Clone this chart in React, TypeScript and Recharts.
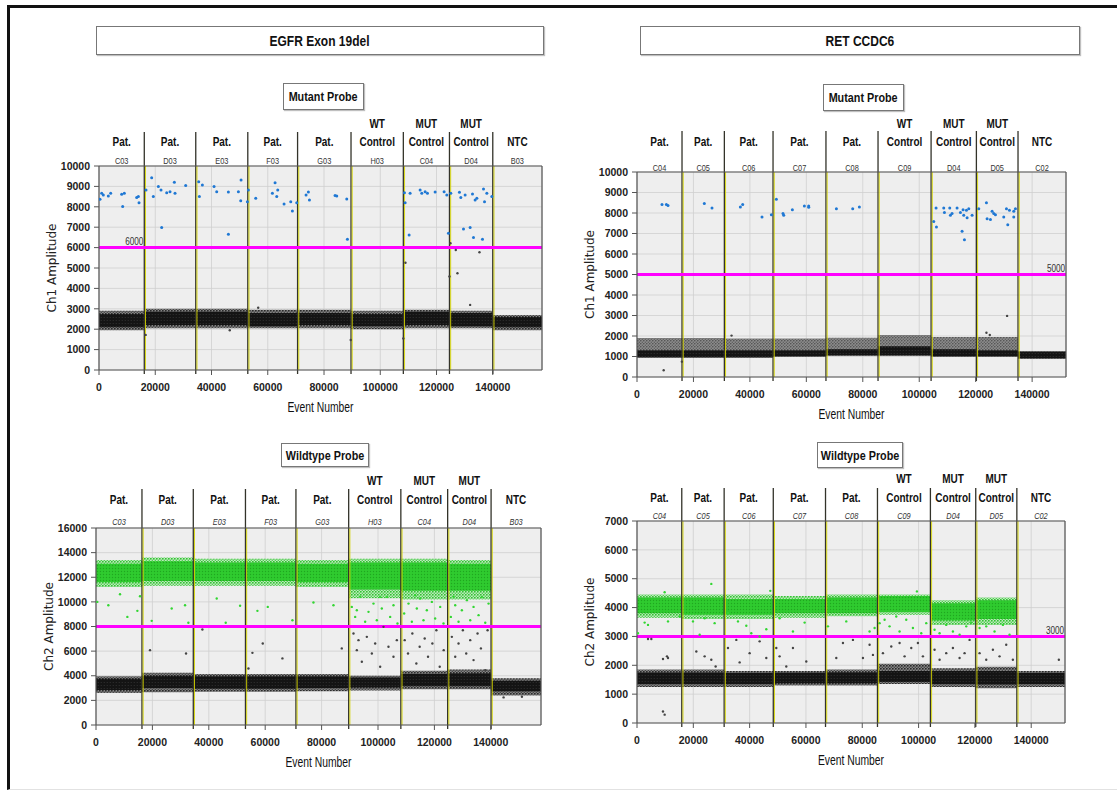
import React from "react";
import {
  ScatterChart,
  Scatter,
  XAxis,
  YAxis,
  CartesianGrid,
  ReferenceLine,
  ReferenceArea,
} from "recharts";

const SANS = "'Liberation Sans', Arial, sans-serif";
const DEJAVU = "'DejaVu Sans', Verdana, sans-serif";

// wells / header labels
const egfrWells = ["C03", "D03", "E03", "F03", "G03", "H03", "C04", "D04", "B03"];
const retWells = ["C04", "C05", "C06", "C07", "C08", "C09", "D04", "D05", "C02"];
const wellTop = ["", "", "", "", "", "WT", "MUT", "MUT", ""];
const wellBottom = ["Pat.", "Pat.", "Pat.", "Pat.", "Pat.", "Control", "Control", "Control", "NTC"];

// axis ticks
const eventTicks = [0, 20000, 40000, 60000, 80000, 100000, 120000, 140000];
const ch1Ticks = [0, 1000, 2000, 3000, 4000, 5000, 6000, 7000, 8000, 9000, 10000];
const egfrCh2Ticks = [0, 2000, 4000, 6000, 8000, 10000, 12000, 14000, 16000];
const retCh2Ticks = [0, 1000, 2000, 3000, 4000, 5000, 6000, 7000];

// well boundaries (event number)
const egfrCh1Bounds = [16100, 34400, 52900, 70600, 89600, 108200, 124600, 140000];
const egfrCh2Bounds = [16300, 34500, 53000, 70900, 89600, 108100, 124700, 140100];
const retCh1Bounds = [15950, 30950, 48200, 66950, 85400, 104200, 120250, 135000];
const retCh2Bounds = [15900, 30950, 48400, 66950, 85400, 104200, 120300, 134900];

// droplet clouds per well [low, high] amplitude
const egfrCh1NegOuter: ([number, number] | null)[] = [
  [1950, 2900], [2050, 3000], [2050, 3000], [2050, 2950], [2050, 2950], [2000, 2900], [2050, 2950], [2050, 2900], [1950, 2700],
];
const egfrCh1NegCore: ([number, number] | null)[] = [
  [2100, 2750], [2200, 2850], [2200, 2850], [2150, 2800], [2200, 2800], [2150, 2750], [2200, 2850], [2150, 2800], [2100, 2600],
];
const retCh1NegCore: ([number, number] | null)[] = [
  [950, 1300], [950, 1300], [950, 1300], [1000, 1300], [1050, 1350], [1050, 1500], [1000, 1350], [1000, 1300], [900, 1250],
];
const retCh1Shadow: ([number, number] | null)[] = [
  [1300, 1900], [1300, 1900], [1300, 1880], [1300, 1880], [1350, 1920], [1500, 2050], [1350, 1950], [1300, 1950], null,
];
const egfrCh2NegOuter: ([number, number] | null)[] = [
  [2600, 3950], [2650, 4250], [2700, 4150], [2700, 4150], [2750, 4150], [2800, 4000], [2900, 4400], [2900, 4500], [2400, 3800],
];
const egfrCh2NegCore: ([number, number] | null)[] = [
  [2850, 3750], [3000, 4000], [2950, 3950], [2950, 3950], [3000, 3950], [3050, 3850], [3150, 4150], [3150, 4200], [2750, 3600],
];
const egfrCh2PosOuter: ([number, number] | null)[] = [
  [11200, 13400], [11300, 13600], [11300, 13500], [11300, 13500], [11200, 13400], [10300, 13500], [10200, 13500], [10200, 13400], null,
];
const egfrCh2PosCore: ([number, number] | null)[] = [
  [11600, 13100], [11700, 13300], [11700, 13200], [11700, 13200], [11600, 13100], [11000, 13200], [10900, 13200], [10900, 13100], null,
];
const retCh2NegOuter: ([number, number] | null)[] = [
  [1250, 1850], [1250, 1850], [1250, 1800], [1300, 1800], [1300, 1850], [1350, 2050], [1250, 1900], [1200, 1950], [1250, 1800],
];
const retCh2NegCore: ([number, number] | null)[] = [
  [1350, 1750], [1350, 1750], [1350, 1730], [1380, 1740], [1380, 1760], [1420, 1800], [1350, 1800], [1330, 1800], [1350, 1730],
];
const retCh2PosOuter: ([number, number] | null)[] = [
  [3650, 4450], [3600, 4450], [3600, 4450], [3650, 4400], [3700, 4450], [3750, 4450], [3400, 4250], [3400, 4350], null,
];
const retCh2PosCore: ([number, number] | null)[] = [
  [3800, 4350], [3750, 4350], [3750, 4300], [3800, 4300], [3800, 4350], [3850, 4400], [3550, 4150], [3600, 4250], null,
];

// individual droplets [event, amplitude]
const egfrCh1Positive: [number, number][] = [
  [356, 8370], [950, 8660], [1540, 8580], [3320, 8530], [4150, 8660], [8060, 8610], [8420, 8010], [9010, 8660], [13400, 8460], [13990, 8500], [14230, 8200],
  [16720, 8820], [18730, 9430], [19320, 8500], [21100, 8990], [22050, 8820], [22290, 6980], [24070, 8690], [25250, 8740], [26790, 9200], [27030, 8660], [30820, 9040],
  [35450, 9230], [35690, 8500], [36750, 9070], [40900, 8990], [41850, 8740], [46000, 6650], [46000, 8730], [49560, 8740], [50510, 9310], [50390, 8300], [52760, 8250], [53110, 8820],
  [55720, 8420], [61650, 8660], [62600, 9180], [63190, 8500], [63540, 8820], [65800, 8140], [68170, 8250], [68760, 7790], [70300, 8200],
  [73620, 8580], [74450, 8730], [74810, 8330], [83930, 8550], [84520, 8530], [88080, 8380], [88320, 6410],
  [108600, 8690], [108840, 8200], [110260, 6620], [110610, 8660], [114170, 8820], [114760, 8660], [115950, 8740], [116780, 8660], [119500, 8730], [122700, 8740], [123650, 8580], [124240, 6700],
  [125070, 8660], [128150, 8710], [128630, 8460], [129580, 6910], [130170, 8580], [131950, 6990], [132780, 8630], [133140, 6500], [133730, 8330], [134330, 8420], [136340, 6410], [136700, 8870], [137060, 8250], [137890, 8660], [139650, 8500],
];
const egfrCh1Negative: [number, number][] = [
  [108960, 5260], [124600, 4580], [127440, 4740], [126850, 5880], [135270, 5770], [131950, 3190], [124950, 6210], [16600, 1720], [89500, 1470], [108200, 1550], [46500, 1950], [56600, 3050],
];
const retCh1Positive: [number, number][] = [
  [8860, 8410], [10400, 8410], [10990, 8370], [23860, 8460], [26580, 8240], [36620, 8290], [37450, 8410],
  [44300, 7800], [47610, 7920], [49380, 8670], [51740, 7970], [51980, 7890], [55050, 8160], [59300, 8340], [60840, 8340], [60840, 8280],
  [70650, 8210], [76430, 8210], [78790, 8290],
  [105140, 7590], [105970, 8240], [106090, 7320], [108680, 8240], [108920, 8020], [110810, 8240], [111050, 7890], [111640, 7970], [113410, 8240], [114590, 8020], [115180, 7110], [115530, 8160], [115770, 7890], [116010, 6700], [116720, 8130], [116960, 7770], [117550, 8210], [118730, 7890],
  [121090, 8210], [123810, 8500], [124050, 7720], [125230, 7680], [125820, 8080], [126410, 7970], [127000, 7920], [129950, 7800], [130900, 8210], [131370, 7430], [131960, 8130], [133490, 7800], [133490, 8080], [134080, 8210],
];
const retCh1Negative: [number, number][] = [
  [131130, 2980], [123810, 2160], [125000, 2050], [9450, 330], [33500, 2020], [15900, 750],
];
const egfrCh2Positive: [number, number][] = [
  [470, 10000], [4380, 9730], [8520, 10620], [11120, 8780], [14670, 9270], [15610, 10460], [19750, 8460], [26840, 9460], [31580, 9730], [32760, 8300],
  [42810, 10270], [46000, 8300], [51090, 9680], [57240, 9270], [60910, 9590], [69660, 8510], [77110, 9950], [84210, 9730],
  [90710, 9590], [91900, 8780], [93670, 10410], [95440, 8380], [96630, 9190], [98400, 9860], [99580, 8510], [101350, 9460], [103130, 10410], [104310, 8780], [105490, 9730], [106910, 8240], [92490, 9320], [100760, 10410],
  [109280, 9050], [110820, 9860], [112000, 8380], [113770, 9460], [114950, 10270], [116130, 8510], [117320, 9320], [119090, 10000], [120270, 8650], [122050, 9590], [123230, 8240], [113170, 10540],
  [125840, 8780], [127380, 9730], [128560, 8380], [129740, 9320], [131520, 10140], [132700, 8510], [133880, 9590], [135660, 8920], [136840, 10410], [138030, 8300], [139210, 9860], [126790, 10410],
];
const egfrCh2Negative: [number, number][] = [
  [19160, 6080], [31930, 5810], [37730, 7760], [55470, 5860], [59140, 6620], [66110, 5410], [87160, 6220], [54060, 4590],
  [91310, 7430], [92490, 6080], [94270, 5140], [96040, 7160], [97820, 5810], [99000, 6620], [100760, 4730], [101950, 7970], [103720, 6350], [105490, 5540], [106680, 6890], [93080, 6890],
  [109460, 6890], [110640, 5810], [112180, 7430], [113600, 5000], [114780, 6350], [116560, 7030], [117740, 5540], [119280, 6620], [120700, 7700], [121880, 4730], [123300, 6080],
  [126190, 7160], [127380, 5540], [128560, 6620], [130090, 7700], [131280, 5810], [132700, 6890], [133880, 5270], [135300, 7430], [136490, 6220], [138030, 4460], [138860, 7700],
  [144530, 2240], [151040, 2300],
];
const retCh2Positive: [number, number][] = [
  [350, 3110], [2720, 3480], [3910, 3400], [9820, 4530], [11010, 3520], [15150, 3690],
  [19880, 3520], [22250, 3060], [24020, 3630], [26390, 4820], [27570, 3460],
  [32310, 3810], [35860, 3520], [38820, 3370], [40590, 3110], [43550, 3000], [45920, 3250], [47340, 4580],
  [50650, 3630], [55380, 3170], [59530, 3480],
  [67810, 3350], [74320, 3520], [82600, 3170], [84380, 3290],
  [86150, 3460], [87930, 3580], [89700, 3350], [92070, 3690], [93250, 3170], [95620, 3580], [97990, 3290], [99410, 4560], [100950, 3110], [102720, 3460],
  [105680, 3230], [107460, 3110], [109820, 3400], [112190, 3170], [114560, 3060], [116920, 3350], [118700, 3480],
  [121660, 3290], [124030, 3350], [126980, 3170], [129940, 3400], [132310, 3060],
];
const retCh2Negative: [number, number][] = [
  [3910, 2910], [5090, 2910], [9230, 2220], [10650, 2310], [11010, 2250], [9230, 400], [9820, 290],
  [21070, 2480], [24020, 2310], [26390, 2190], [27930, 1960],
  [32310, 2600], [35270, 2880], [36450, 2100], [40000, 2420], [43550, 2830], [45920, 2250],
  [49470, 2600], [50650, 2310], [55380, 2600], [60120, 2130], [53020, 1960],
  [70770, 2250], [73140, 2770], [76690, 2880], [80240, 2250], [82600, 2710], [83790, 2360],
  [87340, 2420], [90300, 2650], [93250, 2770], [95030, 2310], [97400, 2600], [99760, 2770], [101540, 2310],
  [105680, 2540], [107460, 2190], [109820, 2420], [112190, 2600], [114560, 2250], [116330, 2420], [118110, 2880],
  [121660, 2420], [124030, 2190], [126390, 2540], [128760, 2310], [131120, 2710], [133490, 2190],
  [149820, 2190],
];

type Band = [number, number] | null;

interface PanelSpec {
  left: number;
  top: number;
  width: number;
  height: number;
  xMax: number;
  yMax: number;
  yTicks: number[];
  yLabel: string;
  bounds: number[];
  wells: string[];
  italicIds: boolean;
  hdr: [number, number, number, number];
  threshold: number;
  thresholdSide: "left" | "right" | "none";
  negOuter: Band[];
  negCore: Band[];
  shadow?: Band[];
  posOuter?: Band[];
  posCore?: Band[];
  posPoints: [number, number][];
  negPoints: [number, number][];
  posColor: string;
  posRadius: number;
}

// condensed svg text (the source figure is squeezed horizontally)
function Squeezed({ x, y, sx = 0.78, children, ...rest }: any) {
  return (
    <text transform={`translate(${x} ${y}) scale(${sx} 1)`} x={0} y={0} textAnchor="middle" {...rest}>
      {children}
    </text>
  );
}

function Panel(p: PanelSpec) {
  const edges = [0, ...p.bounds, p.xMax];
  const centers = p.wells.map((_, i) => (edges[i] + edges[i + 1]) / 2);
  const pos = p.posPoints.map(([x, y]) => ({ x, y }));
  const neg = p.negPoints.map(([x, y]) => ({ x, y }));

  const wellTick = (props: any) => {
    const { x, y, payload } = props;
    const i = centers.indexOf(payload.value);
    if (i < 0) return <g />;
    return (
      <g>
        {wellTop[i] && (
          <Squeezed x={x} y={y - p.hdr[0]} sx={0.74} fontFamily={SANS} fontWeight="bold" fontSize={13.5} fill="#111">
            {wellTop[i]}
          </Squeezed>
        )}
        <Squeezed x={x} y={y - p.hdr[1]} sx={0.74} fontFamily={SANS} fontWeight="bold" fontSize={13.5} fill="#111">
          {wellBottom[i]}
        </Squeezed>
        <Squeezed
          x={x}
          y={y - p.hdr[2]}
          sx={0.82}
          fontFamily={SANS}
          fontStyle={p.italicIds ? "italic" : "normal"}
          fontSize={9}
          fill="#333"
        >
          {p.wells[i]}
        </Squeezed>
      </g>
    );
  };

  const boundaryShape = (sp: any) => {
    const t = Math.min(sp.y1, sp.y2);
    const b = Math.max(sp.y1, sp.y2);
    return (
      <g>
        <line x1={sp.x1} x2={sp.x1} y1={t - p.hdr[3]} y2={b + 4} stroke="#33332a" strokeWidth={1.3} />
        <line x1={sp.x1 + 1.2} x2={sp.x1 + 1.2} y1={t} y2={b} stroke="#d4d400" strokeWidth={0.9} />
      </g>
    );
  };

  const thresholdText = (lp: any) => {
    const vb = lp.viewBox;
    if (p.thresholdSide === "none") return <g />;
    const x =
      p.thresholdSide === "left" ? vb.x + (edges[1] / p.xMax) * vb.width - 10 : vb.x + vb.width - 10;
    return (
      <Squeezed x={x} y={vb.y - 2.5} sx={0.82} fontFamily={SANS} fontSize={10} fill="#333">
        {p.threshold}
      </Squeezed>
    );
  };

  const bandAreas = (bands: Band[] | undefined, fill: string, key: string, opacity = 1) =>
    (bands || []).map((b, i) =>
      b ? (
        <ReferenceArea
          key={key + i}
          x1={edges[i]}
          x2={edges[i + 1]}
          y1={b[0]}
          y2={b[1]}
          fill={fill}
          fillOpacity={opacity}
          stroke="none"
        />
      ) : null
    );

  return (
    <div style={{ position: "absolute", left: p.left, top: p.top }}>
      <ScatterChart width={p.width} height={p.height} margin={{ top: 0, right: 10, bottom: 0, left: 0 }}>
        <CartesianGrid fill="#eeeeee" fillOpacity={1} stroke="#cfcfcf" strokeWidth={0.8} />
        <XAxis
          xAxisId="top"
          orientation="top"
          type="number"
          dataKey="x"
          domain={[0, p.xMax]}
          ticks={centers}
          interval={0}
          tickSize={0}
          tickMargin={0}
          tickLine={false}
          axisLine={{ stroke: "#555", strokeWidth: 1.2 }}
          height={60}
          tick={wellTick}
          allowDataOverflow
        />
        <XAxis
          type="number"
          dataKey="x"
          domain={[0, p.xMax]}
          ticks={eventTicks}
          interval={0}
          tickSize={5}
          tickMargin={9}
          height={45}
          axisLine={{ stroke: "#555", strokeWidth: 1.2 }}
          tickLine={{ stroke: "#555" }}
          tick={{ fontFamily: SANS, fontWeight: "bold", fontSize: 10.5, fill: "#222" }}
          allowDataOverflow
          label={(lp: any) => {
            const vb = lp.viewBox;
            return (
              <Squeezed x={vb.x + vb.width / 2} y={vb.y + 42} sx={0.74} fontFamily={SANS} fontSize={14} fill="#111">
                Event Number
              </Squeezed>
            );
          }}
        />
        <YAxis
          type="number"
          dataKey="y"
          domain={[0, p.yMax]}
          ticks={p.yTicks}
          interval={0}
          width={60}
          tickSize={5}
          tickMargin={4}
          axisLine={{ stroke: "#555", strokeWidth: 1.2 }}
          tickLine={{ stroke: "#555" }}
          tick={{ fontFamily: SANS, fontWeight: "bold", fontSize: 10.5, fill: "#222" }}
          allowDataOverflow
          label={(lp: any) => {
            const vb = lp.viewBox;
            const cx = vb.x + 13;
            const cy = vb.y + vb.height / 2;
            return (
              <text x={cx} y={cy} transform={`rotate(-90 ${cx} ${cy})`} textAnchor="middle" dominantBaseline="central" fontFamily={DEJAVU} fontSize={12} fill="#222">
                {p.yLabel}
              </text>
            );
          }}
        />
        {bandAreas(p.shadow, "url(#shadowDots)", "sh")}
        {bandAreas(p.negOuter, "url(#negDots)", "no")}
        {bandAreas(p.negCore, "url(#negCoreDots)", "nc")}
        {bandAreas(p.posOuter, "url(#posDots)", "po")}
        {bandAreas(p.posCore, "url(#posCoreDots)", "pc")}
        {p.bounds.map((b) => (
          <ReferenceLine key={"b" + b} x={b} stroke="#33332a" shape={boundaryShape} />
        ))}
        <ReferenceLine y={p.threshold} stroke="#ff00ff" strokeWidth={3} label={thresholdText} />
        <ReferenceLine x={p.xMax} stroke="#555" strokeWidth={1.2} />
        <Scatter
          data={neg}
          isAnimationActive={false}
          shape={(sp: any) => <circle cx={sp.cx} cy={sp.cy} r={1.2} fill="#444" />}
        />
        <Scatter
          data={pos}
          isAnimationActive={false}
          shape={(sp: any) => <circle cx={sp.cx} cy={sp.cy} r={p.posRadius} fill={p.posColor} />}
        />
      </ScatterChart>
    </div>
  );
}

const BLUE = "#1f78d4";
const GREEN = "#33d633";

function TitleBox({ left, top, width, height, text, size }: any) {
  return (
    <div
      style={{
        position: "absolute",
        left,
        top,
        width,
        height,
        border: "1px solid #777",
        boxShadow: "1px 1px 1px rgba(0,0,0,0.25)",
        background: "#fff",
        display: "flex",
        alignItems: "center",
        justifyContent: "center",
        boxSizing: "border-box",
      }}
    >
      <span
        style={{
          display: "inline-block",
          whiteSpace: "nowrap",
          transform: "scaleX(0.8)",
          fontFamily: SANS,
          fontWeight: "bold",
          fontSize: size,
          color: "#111",
        }}
      >
        {text}
      </span>
    </div>
  );
}

export default function App() {
  return (
    <div style={{ position: "absolute", left: 0, top: 0, width: 1117, height: 794, background: "#fff", overflow: "hidden" }}>
      <svg width={0} height={0} style={{ position: "absolute" }}>
        <defs>
          <pattern id="negDots" width="3" height="3" patternUnits="userSpaceOnUse">
            <rect width="3" height="3" fill="#858585" />
            <circle cx="0.8" cy="0.8" r="0.9" fill="#262626" />
            <circle cx="2.3" cy="2.2" r="0.7" fill="#3a3a3a" />
          </pattern>
          <pattern id="negCoreDots" width="3" height="3" patternUnits="userSpaceOnUse">
            <rect width="3" height="3" fill="#141414" />
            <circle cx="2.2" cy="1.5" r="0.5" fill="#3a3a3a" />
          </pattern>
          <pattern id="shadowDots" width="3" height="3" patternUnits="userSpaceOnUse">
            <rect width="3" height="3" fill="#8c8c8c" />
            <circle cx="0.8" cy="0.8" r="0.8" fill="#4a4a4a" />
            <circle cx="2.3" cy="2.2" r="0.7" fill="#5a5a5a" />
          </pattern>
          <pattern id="posDots" width="3" height="3" patternUnits="userSpaceOnUse">
            <rect width="3" height="3" fill="#bfe6bf" />
            <circle cx="0.8" cy="0.8" r="0.9" fill="#2cc42c" />
            <circle cx="2.3" cy="2.2" r="0.7" fill="#3ad03a" />
          </pattern>
          <pattern id="posCoreDots" width="3" height="3" patternUnits="userSpaceOnUse">
            <rect width="3" height="3" fill="#2fcb2f" />
            <circle cx="1.5" cy="1.5" r="0.7" fill="#1fa81f" />
          </pattern>
        </defs>
      </svg>
      <div
        style={{
          position: "absolute",
          left: 7,
          top: 5,
          width: 1130,
          height: 785,
          borderLeft: "3px solid #111",
          borderTop: "3px solid #111",
          borderBottom: "1px solid #e2e2e2",
          boxSizing: "border-box",
        }}
      />
      <TitleBox left={96} top={26} width={448} height={29} text="EGFR Exon 19del" size={15} />
      <TitleBox left={640} top={26} width={440} height={29} text="RET CCDC6" size={15} />
      <TitleBox left={283} top={83} width={81} height={27} text="Mutant Probe" size={13.5} />
      <TitleBox left={823} top={84} width={81} height={27} text="Mutant Probe" size={13.5} />
      <TitleBox left={281} top={443} width={88} height={24} text="Wildtype Probe" size={13.5} />
      <TitleBox left={817} top={442} width={86} height={26} text="Wildtype Probe" size={13.5} />

      <Panel
        left={39}
        top={106}
        width={513}
        height={309}
        xMax={157500}
        yMax={10000}
        yTicks={ch1Ticks}
        yLabel="Ch1 Amplitude"
        bounds={egfrCh1Bounds}
        wells={egfrWells}
        italicIds={false}
        hdr={[38, 20, 2, 34]}
        threshold={6000}
        thresholdSide="left"
        negOuter={egfrCh1NegOuter}
        negCore={egfrCh1NegCore}
        posPoints={egfrCh1Positive}
        negPoints={egfrCh1Negative}
        posColor={BLUE}
        posRadius={1.5}
      />
      <Panel
        left={577}
        top={112}
        width={499}
        height={310}
        xMax={152000}
        yMax={10000}
        yTicks={ch1Ticks}
        yLabel="Ch1 Amplitude"
        bounds={retCh1Bounds}
        wells={retWells}
        italicIds={false}
        hdr={[44, 26, 1.5, 41]}
        threshold={5000}
        thresholdSide="right"
        negOuter={retCh1NegCore}
        negCore={retCh1NegCore}
        shadow={retCh1Shadow}
        posPoints={retCh1Positive}
        negPoints={retCh1Negative}
        posColor={BLUE}
        posRadius={1.5}
      />
      <Panel
        left={36}
        top={468}
        width={515}
        height={302}
        xMax={157800}
        yMax={16000}
        yTicks={egfrCh2Ticks}
        yLabel="Ch2 Amplitude"
        bounds={egfrCh2Bounds}
        wells={egfrWells}
        italicIds={true}
        hdr={[43, 24, 3, 39]}
        threshold={8000}
        thresholdSide="none"
        negOuter={egfrCh2NegOuter}
        negCore={egfrCh2NegCore}
        posOuter={egfrCh2PosOuter}
        posCore={egfrCh2PosCore}
        posPoints={egfrCh2Positive}
        negPoints={egfrCh2Negative}
        posColor={GREEN}
        posRadius={1.2}
      />
      <Panel
        left={577}
        top={461}
        width={498}
        height={307}
        xMax={152000}
        yMax={7000}
        yTicks={retCh2Ticks}
        yLabel="Ch2 Amplitude"
        bounds={retCh2Bounds}
        wells={retWells}
        italicIds={true}
        hdr={[38, 19.5, 2.5, 33]}
        threshold={3000}
        thresholdSide="right"
        negOuter={retCh2NegOuter}
        negCore={retCh2NegCore}
        posOuter={retCh2PosOuter}
        posCore={retCh2PosCore}
        posPoints={retCh2Positive}
        negPoints={retCh2Negative}
        posColor={GREEN}
        posRadius={1.2}
      />
    </div>
  );
}
